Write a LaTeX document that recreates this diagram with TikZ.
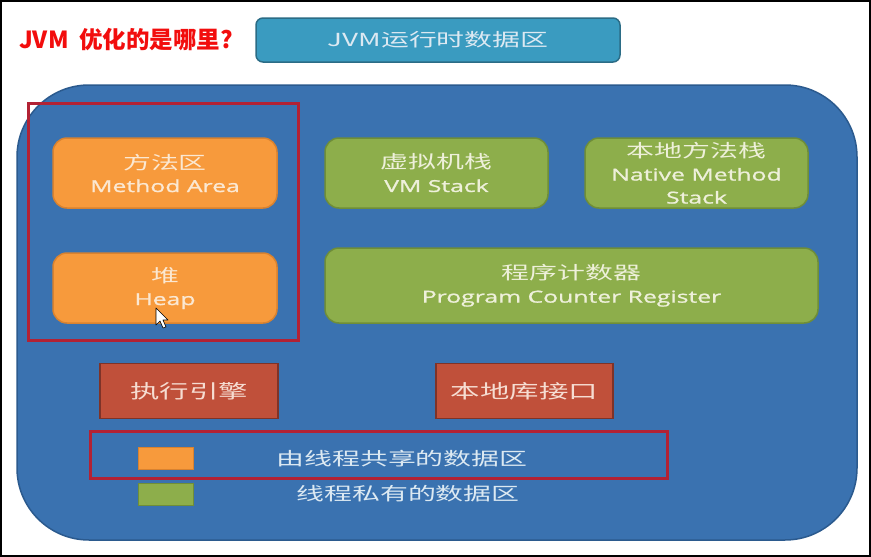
\documentclass[tikz,border=0pt]{standalone}
\usepackage{fontspec}
\newfontfamily\cjk[FakeStretch=1.55]{Noto Sans CJK SC}
\newfontfamily\lat[FakeStretch=1.5, FakeBold=1.2]{Open Sans}
\newfontfamily\titfont{Noto Sans CJK SC}
\definecolor{bigblue}{HTML}{3A72B0}
\definecolor{bigblueedge}{HTML}{2B5A8E}
\definecolor{orfill}{HTML}{F79A3C}
\definecolor{oredge}{HTML}{D9822F}
\definecolor{grfill}{HTML}{8DAE4B}
\definecolor{gredge}{HTML}{6F8E38}
\definecolor{rdfill}{HTML}{C0503A}
\definecolor{rdedge}{HTML}{7E3328}
\definecolor{frame}{HTML}{B22234}
\definecolor{teal}{HTML}{3A9BC0}
\definecolor{tealedge}{HTML}{2B6C86}
\definecolor{ortext}{HTML}{FBE8D2}
\definecolor{grtext}{HTML}{EEF0DA}
\definecolor{rdtext}{HTML}{F6DDD2}
\definecolor{bltext}{HTML}{DCE9F2}
\definecolor{titred}{HTML}{F20D0D}
\tikzset{
  area/.style={rectangle, rounded corners=14pt, line width=1.5pt, align=center, inner sep=0pt},
  orbox/.style={area, fill=orfill, draw=oredge, text=ortext},
  grbox/.style={area, fill=grfill, draw=gredge, text=grtext},
  rdbox/.style={rectangle, fill=rdfill, draw=rdedge, line width=1.5pt, text=rdtext, inner sep=0pt},
  hilite/.style={draw=frame, line width=3pt},
  txt/.style={font=\fontsize{18}{23}\selectfont}
}
\begin{document}
\begin{tikzpicture}[x=1pt,y=-1pt]
\useasboundingbox (0,0) rectangle (871,557);
\fill[white] (0,0) rectangle (871,557);
% title
\node[anchor=west, text=titred, font=\titfont\bfseries\fontsize{23.5}{26}\selectfont, inner sep=0pt] (title) at (19,40) {JVM\ \ 优化的是哪里?};
% runtime data area header
\node[rectangle, rounded corners=7pt, fill=teal, draw=tealedge, line width=1.5pt, minimum width=364pt, minimum height=44pt, text=bltext, font=\fontsize{18}{22}\selectfont] (hdr) at (438,40) {\cjk JVM运行时数据区};
% big area
\draw[fill=bigblue, draw=bigblueedge, line width=1.5pt, rounded corners=72pt] (17,85) rectangle (857,540);
% shared
\node[orbox, minimum width=224pt, minimum height=70pt, txt] (ma) at (165,173) {{\cjk 方法区}\\{\lat\fontsize{16.5}{23}\selectfont Method Area}};
\node[orbox, minimum width=224pt, minimum height=70pt, txt] (heap) at (165,288) {{\cjk 堆}\\{\lat\fontsize{16.5}{23}\selectfont Heap}};
% private
\node[grbox, minimum width=223pt, minimum height=70pt, txt] (vms) at (436.5,173) {{\cjk 虚拟机栈}\\{\lat\fontsize{16.5}{23}\selectfont VM Stack}};
\node[grbox, minimum width=223pt, minimum height=70pt, txt] (nms) at (696.5,173) {{\cjk 本地方法栈}\\{\lat\fontsize{16.5}{22.5}\selectfont Native Method}\\{\lat\fontsize{16.5}{22.5}\selectfont Stack}};
\node[grbox, minimum width=493pt, minimum height=75pt, txt] (pc) at (571.5,285.5) {{\cjk 程序计数器}\\{\lat\fontsize{16.5}{23}\selectfont Program Counter Register}};
% engines
\node[rdbox, minimum width=178pt, minimum height=55pt, font=\cjk\fontsize{19}{22}\selectfont] (exe) at (189,391) {执行引擎};
\node[rdbox, minimum width=177pt, minimum height=55pt, font=\cjk\fontsize{19}{22}\selectfont] (nli) at (524.5,391) {本地库接口};
% highlight frames
\draw[hilite] (28,103) rectangle (298,340);
% legend
\node[rectangle, fill=orfill, draw=oredge, line width=0.8pt, minimum width=55pt, minimum height=22pt, inner sep=0pt] (lgor) at (165.5,458) {};
\node[rectangle, fill=grfill, draw=gredge, line width=0.8pt, minimum width=55pt, minimum height=22pt, inner sep=0pt] (lggr) at (165.5,494) {};
\node[text=bltext, font=\cjk\fontsize{18}{22}\selectfont, inner sep=0pt] (lgt1) at (402,459) {由线程共享的数据区};
\node[text=bltext, font=\cjk\fontsize{18}{22}\selectfont, inner sep=0pt] (lgt2) at (408,494) {线程私有的数据区};
\draw[hilite] (90,431) rectangle (667,478);
% mouse cursor
\draw[fill=white, draw=black, line width=0.6pt, line join=round]
  (156,308) -- (156,325) -- (160,321) -- (163,328) -- (166,327) -- (163,320) -- (168,320) -- cycle;
% outer frame
\draw[black, line width=2pt] (1,1) rectangle (870,556);
\end{tikzpicture}
\end{document}
